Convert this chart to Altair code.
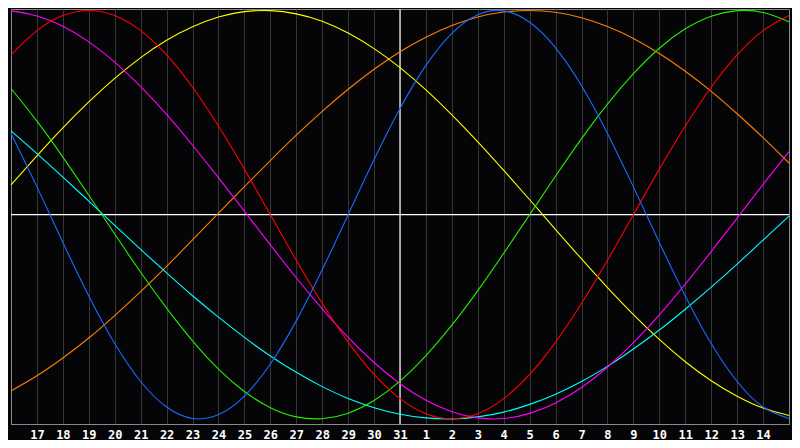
import altair as alt
import pandas as pd

# x positions: day index 0..30 (16th .. 15th), labels at 1..29
day_labels = ["17", "18", "19", "20", "21", "22", "23", "24", "25", "26", "27", "28",
              "29", "30", "31", "1", "2", "3", "4", "5", "6", "7", "8", "9", "10",
              "11", "12", "13", "14"]
days = list(range(31))
today_index = 15

blue = [0.398, 0.136, -0.136, -0.398, -0.631, -0.817, -0.942, -0.998, -0.979, -0.888,
        -0.731, -0.520, -0.270, 0.000, 0.270, 0.520, 0.731, 0.888, 0.979, 0.998,
        0.942, 0.817, 0.631, 0.398, 0.136, -0.136, -0.398, -0.631, -0.817, -0.942, -0.998]
red = [0.782, 0.901, 0.975, 1.000, 0.975, 0.901, 0.782, 0.624, 0.434, 0.223,
       0.000, -0.223, -0.434, -0.624, -0.782, -0.901, -0.975, -1.000, -0.975, -0.901,
       -0.782, -0.624, -0.434, -0.223, 0.000, 0.223, 0.434, 0.624, 0.782, 0.901, 0.975]
green = [0.618, 0.458, 0.282, 0.095, -0.095, -0.282, -0.458, -0.618, -0.756, -0.866,
         -0.945, -0.990, -0.999, -0.972, -0.910, -0.815, -0.690, -0.541, -0.372, -0.189,
         0.000, 0.189, 0.372, 0.541, 0.690, 0.815, 0.910, 0.972, 0.999, 0.990, 0.945]
magenta = [0.998, 0.973, 0.922, 0.846, 0.747, 0.627, 0.491, 0.340, 0.181, 0.017,
           -0.148, -0.309, -0.461, -0.601, -0.724, -0.828, -0.909, -0.965, -0.995, -0.998,
           -0.973, -0.922, -0.846, -0.747, -0.627, -0.491, -0.340, -0.181, -0.017, 0.148, 0.309]
yellow = [0.146, 0.288, 0.425, 0.552, 0.667, 0.769, 0.854, 0.920, 0.968, 0.994,
          0.999, 0.983, 0.947, 0.889, 0.813, 0.720, 0.611, 0.489, 0.357, 0.217,
          0.073, -0.073, -0.217, -0.357, -0.489, -0.611, -0.720, -0.813, -0.889, -0.947, -0.983]
orange = [-0.863, -0.789, -0.702, -0.604, -0.494, -0.377, -0.253, -0.124, 0.007, 0.137,
          0.265, 0.389, 0.506, 0.614, 0.712, 0.798, 0.869, 0.926, 0.968, 0.992,
          1.000, 0.991, 0.964, 0.921, 0.863, 0.789, 0.702, 0.604, 0.494, 0.377, 0.253]
cyan = [0.410, 0.299, 0.184, 0.066, -0.052, -0.170, -0.285, -0.397, -0.502, -0.601,
        -0.692, -0.772, -0.842, -0.900, -0.945, -0.977, -0.995, -1.000, -0.990, -0.967,
        -0.929, -0.879, -0.817, -0.743, -0.658, -0.565, -0.463, -0.355, -0.242, -0.125, -0.007]

series_names = ["orange", "yellow", "cyan", "magenta", "green", "red", "blue"]
series_values = [orange, yellow, cyan, magenta, green, red, blue]
series_colors = ["#ff8000", "#ffff00", "#00ffff", "#ff00ff", "#22ee00", "#ff0000", "#1a6aff"]

rows = []
for order, (name, vals) in enumerate(zip(series_names, series_values)):
    for d, v in zip(days, vals):
        rows.append({"d": d, "v": v, "s": name, "o": order})
df = pd.DataFrame(rows)

label_expr = "[" + ",".join("'" + l + "'" for l in day_labels) + "][datum.value - 1]"

x_scale = alt.Scale(domain=[0, 30], nice=False, zero=False)
y_scale = alt.Scale(domain=[-1.025, 1.007], nice=False, zero=False)

x_axis = alt.Axis(values=list(range(1, 30)), labelExpr=label_expr, grid=True,
                  gridColor="#363636", gridWidth=1, ticks=False, domainColor="#8a8a8a",
                  labelColor="#ffffff", labelFont="DejaVu Sans Mono", labelFontWeight="bold",
                  labelFontSize=12, labelPadding=5, title=None, labelFlush=False)

lines = alt.Chart(df).mark_line(strokeWidth=1.1, interpolate="natural").encode(
    x=alt.X("d:Q", scale=x_scale, axis=x_axis),
    y=alt.Y("v:Q", scale=y_scale, axis=None),
    color=alt.Color("s:N", scale=alt.Scale(domain=series_names, range=series_colors), legend=None),
    detail="s:N",
)

hrule = alt.Chart(pd.DataFrame({"v": [0.0]})).mark_rule(color="#ffffff", strokeWidth=1.2).encode(
    y=alt.Y("v:Q", scale=y_scale, axis=None)
)
vrule = alt.Chart(pd.DataFrame({"d": [today_index]})).mark_rule(color="#ffffff", strokeWidth=1.2).encode(
    x=alt.X("d:Q", scale=x_scale, axis=x_axis)
)

chart = alt.layer(hrule, vrule, lines).properties(
    width=784, height=432,
    autosize=alt.AutoSizeParams(type="fit", contains="padding"),
    padding=0,
    background="#050507",
).configure_view(stroke="#8a8a8a", strokeWidth=1)

chart.save("out.html", embed_options={"renderer": "svg", "actions": False})
